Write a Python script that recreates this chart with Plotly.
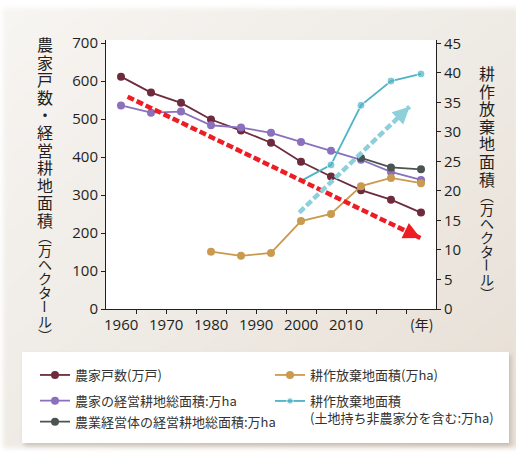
import base64
import plotly.graph_objects as go

# ---- data -------------------------------------------------------------
# survey points, evenly spaced along the horizontal axis
point_idx = list(range(11))

farm_households = [612, 570, 543, 499, 470, 438, 388, 349, 313, 288, 254]          # 万戸
farm_cultivated = [536, 517, 520, 484, 478, 464, 440, 417, 393, 361, 340]          # 万ha
entity_idx = [8, 9, 10]
entity_cultivated = [398, 373, 368]                                                  # 万ha
abandoned_idx = [3, 4, 5, 6, 7, 8, 9, 10]
abandoned_farm = [9.7, 9.0, 9.5, 14.9, 16.1, 20.8, 22.2, 21.3]                       # 万ha
abandoned_all_idx = [6, 7, 8, 9, 10]
abandoned_all = [21.7, 24.4, 34.5, 38.6, 39.8]                                       # 万ha

year_labels = ["1960", "1970", "1980", "1990", "2000", "2010"]
year_label_pos = [0, 1.5, 3, 4.5, 6, 7.5]
minor_tick_pos = [0.5, 1.5, 2.5, 3.5, 4.5, 5.5, 6.5, 7.5, 8.5, 9.5]
left_ticks = [0, 100, 200, 300, 400, 500, 600, 700]
right_ticks = [0, 5, 10, 15, 20, 25, 30, 35, 40, 45]

# vertical titles: main words, then the bracketed unit (vertical bracket forms)
left_title_main = "農家戸数・経営耕地面積"
right_title_main = "耕作放棄地面積"
unit_vertical = "︵万ヘクタール︶"

# trend arrows (start / tip, in left-axis units)
down_arrow = ((0.22, 559), (9.98, 187))
up_arrow = ((5.94, 254), (9.62, 533))

# ---- geometry -----------------------------------------------------------
W, H = 516, 452
L, R, T, B = 106, 436, 40, 309
PW, PH = R - L, B - T


def px_x(px):
    return (px - L) / PW


def px_y(py):
    return (B - py) / PH


INK = "#231f20"
CJK = "Noto Sans CJK JP"
NUM = "Open Sans"

C_HOUSE = "#6d2b3d"
C_FARM = "#8a70bd"
C_ENTITY = "#4c5452"
C_ABAND = "#c99a4f"
C_ABAND_ALL = "#4db3c6"

# ---- backdrop: beige panel and the legend card -------------------------
bg_svg = f"""<svg xmlns="http://www.w3.org/2000/svg" width="{W}" height="{H}" viewBox="0 0 {W} {H}">
<defs>
<linearGradient id="g" x1="0" y1="0" x2="1" y2="1">
<stop offset="0" stop-color="#f7f5f2"/>
<stop offset="0.55" stop-color="#eee9e3"/>
<stop offset="1" stop-color="#e6ded4"/>
</linearGradient>
<filter id="soft" x="-5%" y="-5%" width="110%" height="110%"><feGaussianBlur stdDeviation="2.5"/></filter>
<filter id="sh" x="-5%" y="-20%" width="110%" height="140%"><feGaussianBlur stdDeviation="2"/></filter>
</defs>
<rect width="{W}" height="{H}" fill="#ffffff"/>
<rect x="3" y="8" width="{W}" height="440" fill="url(#g)" filter="url(#soft)"/>
<rect x="24" y="355" width="487" height="91" fill="#8a7a6a" fill-opacity="0.35" filter="url(#sh)"/>
<rect x="22" y="352" width="487" height="91" fill="#ffffff"/>
</svg>"""
bg_src = "data:image/svg+xml;base64," + base64.b64encode(bg_svg.encode("utf-8")).decode("ascii")

fig = go.Figure()

line_w = 1.8
mk = 8

fig.add_trace(go.Scatter(
    x=point_idx, y=farm_households, mode="lines+markers", name="農家戸数(万戸)",
    line=dict(color=C_HOUSE, width=line_w), marker=dict(color=C_HOUSE, size=mk),
    legend="legend"))
fig.add_trace(go.Scatter(
    x=point_idx, y=farm_cultivated, mode="lines+markers", name="農家の経営耕地総面積:万ha",
    line=dict(color=C_FARM, width=line_w), marker=dict(color=C_FARM, size=mk),
    legend="legend2"))
fig.add_trace(go.Scatter(
    x=entity_idx, y=entity_cultivated, mode="lines+markers", name="農業経営体の経営耕地総面積:万ha",
    line=dict(color=C_ENTITY, width=line_w), marker=dict(color=C_ENTITY, size=mk),
    legend="legend3"))
fig.add_trace(go.Scatter(
    x=abandoned_idx, y=abandoned_farm, mode="lines+markers", name="耕作放棄地面積(万ha)",
    line=dict(color=C_ABAND, width=line_w), marker=dict(color=C_ABAND, size=mk),
    yaxis="y2", legend="legend4"))
fig.add_trace(go.Scatter(
    x=abandoned_all_idx, y=abandoned_all, mode="lines+markers",
    name="耕作放棄地面積<br>(土地持ち非農家分を含む:万ha)",
    line=dict(color=C_ABAND_ALL, width=line_w),
    marker=dict(color=C_ABAND_ALL, size=[0] + [mk] * (len(abandoned_all) - 1)),
    yaxis="y2", legend="legend5"))

# ---- legends (two columns) ----------------------------------------------
leg_font = dict(family=CJK, size=13, color="#333333")
col1_x, col2_x = 35, 270
legend_common = dict(bgcolor="rgba(0,0,0,0)", borderwidth=0, font=leg_font,
                     xanchor="left", valign="top", itemclick=False)
legends = {
    "legend": dict(x=px_x(col1_x), y=px_y(375), yanchor="middle", **legend_common),
    "legend2": dict(x=px_x(col1_x), y=px_y(400.7), yanchor="middle", **legend_common),
    "legend3": dict(x=px_x(col1_x), y=px_y(421.7), yanchor="middle", **legend_common),
    "legend4": dict(x=px_x(col2_x), y=px_y(375), yanchor="middle", **legend_common),
    "legend5": dict(x=px_x(col2_x), y=px_y(386), yanchor="top", **legend_common),
}

# ---- annotations ----------------------------------------------------------
annotations = []
for lab, pos in zip(year_labels, year_label_pos):
    annotations.append(dict(x=pos, y=px_y(324), xref="x", yref="paper", text=lab,
                            showarrow=False, xanchor="center", yanchor="middle",
                            font=dict(family=NUM, size=15, color=INK)))
annotations.append(dict(x=10, y=px_y(324), xref="x", yref="paper", text="(年)",
                        showarrow=False, xanchor="center", yanchor="middle",
                        font=dict(family=CJK, size=14, color=INK)))


def char_column(chars, x_px, y_first, pitch, size):
    """Upright characters stacked top to bottom; the long-vowel mark is turned."""
    out = []
    for i, ch in enumerate(chars):
        out.append(dict(x=px_x(x_px), y=px_y(y_first + i * pitch), xref="paper", yref="paper",
                        text=ch, showarrow=False, xanchor="center", yanchor="middle",
                        textangle=90 if ch == "ー" else 0,
                        font=dict(family=CJK, size=size, color=INK)))
    return out


main_pitch = 17.6
unit_pitch = 14.1
for main, x_px, y0 in ((left_title_main, 45, 44), (right_title_main, 487, 73)):
    annotations += char_column(main, x_px, y0, main_pitch, 16)
    last = y0 + (len(main) - 1) * main_pitch
    annotations += char_column(unit_vertical, x_px, last + 16, unit_pitch, 14)

# arrowheads for the two trend arrows
for (s, e), col, vec in (
        (down_arrow, "#ee1d23", (0.9008, 0.4343)),
        (up_arrow, "#8ecfdc", (0.7210, -0.6929))):
    annotations.append(dict(x=e[0], y=e[1], xref="x", yref="y", text="",
                            showarrow=True, arrowhead=2, arrowsize=0.75, arrowwidth=4.5,
                            arrowcolor=col, ax=-vec[0] * 18, ay=-vec[1] * 18, standoff=0))

shapes = [
    dict(type="rect", xref="paper", yref="paper", x0=0, x1=1, y0=0, y1=1,
         fillcolor="#ffffff", line=dict(width=0), layer="below"),
    dict(type="line", xref="x", yref="y", x0=down_arrow[0][0], y0=down_arrow[0][1],
         x1=down_arrow[1][0], y1=down_arrow[1][1],
         line=dict(color="#ee1d23", width=4.5, dash="7px,3px"), layer="above"),
    dict(type="line", xref="x", yref="y", x0=up_arrow[0][0], y0=up_arrow[0][1],
         x1=up_arrow[1][0], y1=up_arrow[1][1],
         line=dict(color="#8ecfdc", width=4.5, dash="7px,3px"), layer="above"),
]

fig.update_layout(
    width=W, height=H,
    margin=dict(l=L, r=W - R, t=T, b=H - B, pad=0, autoexpand=False),
    paper_bgcolor="#ffffff", plot_bgcolor="#ffffff",
    showlegend=True,
    images=[dict(source=bg_src, xref="paper", yref="paper",
                 x=-L / PW, y=1 + T / PH, sizex=W / PW, sizey=H / PH,
                 xanchor="left", yanchor="top", sizing="stretch", layer="below")],
    xaxis=dict(range=[-0.5, 10.5], showgrid=False, zeroline=False,
               showline=True, linecolor=INK, linewidth=1,
               tickmode="array", tickvals=minor_tick_pos, ticktext=[""] * len(minor_tick_pos),
               ticks="outside", ticklen=4, tickcolor=INK, tickwidth=1),
    yaxis=dict(range=[0, 708.5], showgrid=False, zeroline=False,
               showline=True, linecolor=INK, linewidth=1,
               tickmode="array", tickvals=left_ticks,
               ticks="outside", ticklen=4, tickcolor=INK, tickwidth=1,
               tickfont=dict(family=NUM, size=15, color=INK)),
    yaxis2=dict(range=[0, 45.55], overlaying="y", side="right", showgrid=False, zeroline=False,
                showline=True, linecolor=INK, linewidth=1,
                tickmode="array", tickvals=right_ticks,
                ticks="outside", ticklen=4, tickcolor=INK, tickwidth=1,
                tickfont=dict(family=NUM, size=15, color=INK)),
    annotations=annotations,
    shapes=shapes,
    **legends,
)

fig.write_html("out.html")
